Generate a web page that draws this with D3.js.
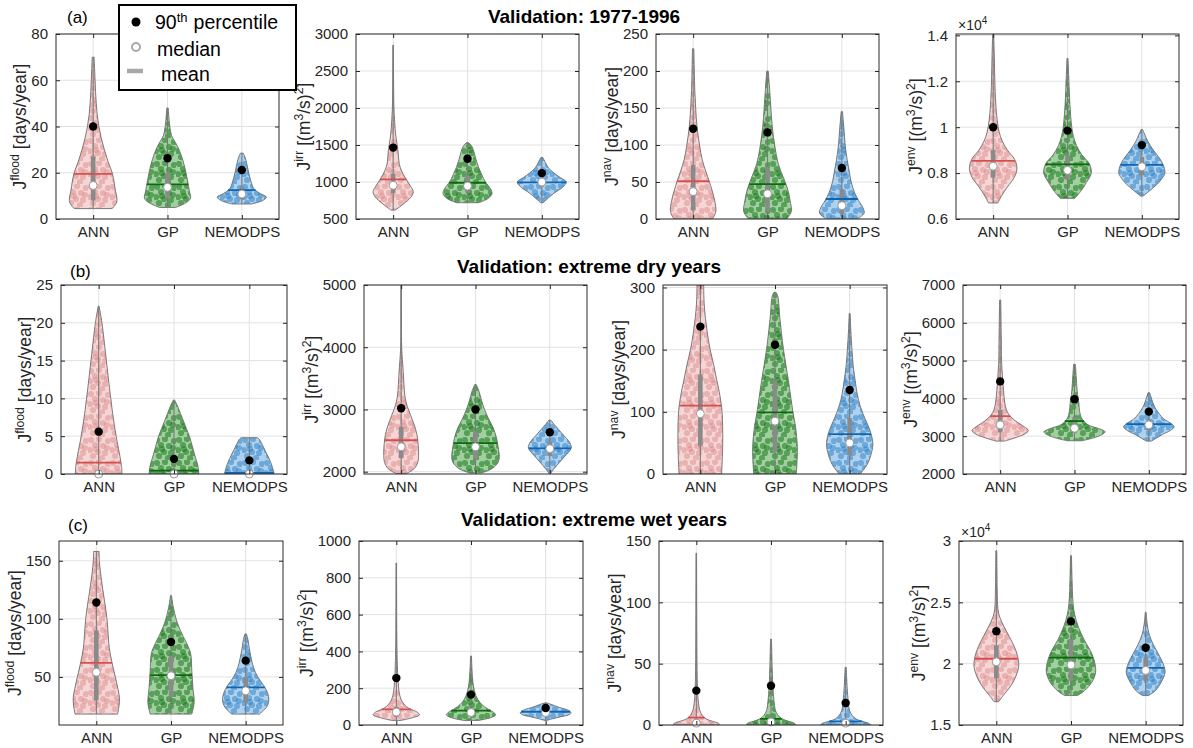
<!DOCTYPE html>
<html lang="en">
<head>
<meta charset="utf-8">
<title>Validation violins</title>
<script src="https://cdn.jsdelivr.net/npm/d3@7"></script>
<style>
  body { margin: 0; background: #fff; }
  text { font-family: "Liberation Sans", Arial, sans-serif; }
</style>
</head>
<body>
<svg id="fig" width="1193" height="748"></svg>
<script>
// ---- data ----
const models = ["ANN", "GP", "NEMODPS"];
const rowTitles = ["Validation: 1977-1996", "Validation: extreme dry years", "Validation: extreme wet years"];
const rowTags = ["(a)", "(b)", "(c)"];
const metrics = ["flood", "irr", "nav", "env"];
const metricUnits = ["days", "flow", "days", "flow"];

// y limits and ticks, per row, per metric
const yDom_a = [[0, 80], [500, 3000], [0, 250], [0.6, 1.406]];
const yDom_b = [[0, 25], [1963, 5000], [0, 304], [2000, 7000]];
const yDom_c = [[8.6, 167], [0, 1000], [0, 150], [1.5, 3]];
const yTicks_a = [[0, 20, 40, 60, 80], [500, 1000, 1500, 2000, 2500, 3000], [0, 50, 100, 150, 200, 250], [0.6, 0.8, 1, 1.2, 1.4]];
const yTicks_b = [[0, 5, 10, 15, 20, 25], [2000, 3000, 4000, 5000], [0, 100, 200, 300], [2000, 3000, 4000, 5000, 6000, 7000]];
const yTicks_c = [[50, 100, 150], [0, 200, 400, 600, 800, 1000], [0, 50, 100, 150], [1.5, 2, 2.5, 3]];
const sciExp = [[0, 0, 0, 4], [0, 0, 0, 0], [0, 0, 0, 4]];

// violin density profiles: [value, relative half width]
const prof_a = [
  [ [[4.5,0.8],[7,0.98],[9,1],[12,0.94],[16,0.88],[20,0.8],[25,0.62],[30,0.47],[35,0.34],[40,0.24],[45,0.17],[50,0.13],[55,0.1],[60,0.08],[65,0.06],[70,0.04]],
    [[5,0.35],[7,0.8],[9,1],[12,0.95],[16,0.88],[20,0.8],[25,0.68],[30,0.5],[33,0.35],[36,0.18],[40,0.1],[44,0.06],[48,0.03]],
    [[6.5,0.4],[8,0.85],[9.5,1],[11,0.75],[13,0.5],[16,0.38],[20,0.28],[24,0.2],[27,0.12],[28.5,0.05]] ],
  [ [[620,0.1],[700,0.5],[800,0.9],[870,1],[950,0.85],[1050,0.62],[1150,0.42],[1250,0.3],[1400,0.25],[1500,0.2],[1650,0.12],[1800,0.08],[2000,0.04],[2400,0.02],[2850,0.01]],
    [[720,0.45],[780,0.85],[850,1],[950,0.85],[1000,0.73],[1100,0.58],[1200,0.45],[1300,0.35],[1400,0.27],[1480,0.18],[1530,0.05]],
    [[720,0.05],[780,0.25],[850,0.5],[930,0.85],[1000,1],[1060,0.75],[1120,0.5],[1200,0.25],[1260,0.15],[1330,0.04]] ],
  [ [[0,0.85],[10,1],[25,0.95],[40,0.82],[50,0.72],[65,0.55],[80,0.4],[100,0.28],[125,0.17],[150,0.11],[175,0.07],[200,0.05],[230,0.03]],
    [[0,0.8],[10,1],[25,0.95],[40,0.85],[55,0.68],[75,0.45],[100,0.3],[125,0.2],[150,0.14],[175,0.09],[200,0.03]],
    [[0,0.7],[8,1],[15,0.95],[25,0.75],[35,0.58],[50,0.42],[65,0.33],[80,0.24],[100,0.15],[120,0.1],[145,0.03]] ],
  [ [[0.67,0.2],[0.7,0.35],[0.74,0.6],[0.78,0.88],[0.82,1],[0.86,0.9],[0.9,0.6],[0.94,0.38],[0.98,0.25],[1.03,0.17],[1.1,0.11],[1.2,0.07],[1.3,0.05],[1.41,0.02]],
    [[0.69,0.3],[0.72,0.55],[0.76,0.8],[0.8,1],[0.84,0.92],[0.88,0.6],[0.92,0.38],[0.96,0.25],[1.0,0.18],[1.1,0.1],[1.2,0.06],[1.3,0.02]],
    [[0.7,0.05],[0.72,0.3],[0.75,0.65],[0.78,0.9],[0.8,1],[0.83,0.95],[0.86,0.8],[0.9,0.5],[0.94,0.25],[0.97,0.12],[0.99,0.03]] ]
];
const prof_b = [
  [ [[0,1],[1,0.98],[2,0.93],[5,0.75],[8,0.6],[10,0.52],[12,0.44],[15,0.33],[18,0.22],[20,0.14],[22.2,0.02]],
    [[0,1],[1,0.97],[2,0.88],[3.5,0.75],[5,0.62],[6,0.5],[7,0.38],[8,0.26],[9,0.14],[9.8,0.02]],
    [[0,1],[1,0.92],[2,0.8],[3,0.65],[4,0.5],[4.6,0.4],[4.8,0.33]] ],
  [ [[1970,0.3],[2050,0.75],[2150,0.95],[2300,1],[2450,0.97],[2600,0.9],[2750,0.75],[2900,0.55],[3050,0.35],[3200,0.22],[3400,0.16],[3600,0.12],[3800,0.07],[4000,0.03],[4500,0.015],[5000,0.01]],
    [[1980,0.25],[2050,0.7],[2150,0.95],[2250,1],[2400,0.95],[2550,0.88],[2700,0.75],[2850,0.55],[3000,0.38],[3150,0.25],[3300,0.14],[3400,0.03]],
    [[1970,0.03],[2050,0.2],[2150,0.45],[2250,0.7],[2350,0.95],[2400,1],[2480,0.9],[2580,0.65],[2680,0.4],[2760,0.2],[2830,0.04]] ],
  [ [[0,0.95],[50,1],[100,0.97],[125,0.88],[150,0.74],[175,0.6],[200,0.44],[225,0.32],[250,0.23],[275,0.17],[300,0.15],[304,0.15]],
    [[0,0.95],[40,1],[75,0.92],[100,0.8],[150,0.6],[200,0.38],[250,0.22],[285,0.13],[292,0.05]],
    [[0,0.45],[15,0.75],[35,0.95],[50,1],[70,0.88],[90,0.65],[110,0.45],[130,0.32],[150,0.24],[175,0.15],[200,0.1],[230,0.05],[258,0.02]] ],
  [ [[2870,0.15],[2950,0.5],[3050,0.85],[3150,1],[3250,0.85],[3400,0.55],[3550,0.33],[3700,0.22],[3900,0.16],[4200,0.12],[4600,0.08],[5000,0.05],[5600,0.04],[6600,0.02]],
    [[2880,0.25],[2950,0.6],[3050,0.92],[3120,1],[3200,0.8],[3300,0.45],[3450,0.25],[3650,0.17],[3900,0.14],[4100,0.1],[4400,0.07],[4900,0.03]],
    [[2870,0.1],[2950,0.3],[3050,0.55],[3150,0.85],[3250,1],[3350,0.85],[3450,0.6],[3600,0.4],[3750,0.25],[3900,0.15],[4050,0.08],[4150,0.03]] ]
];
const prof_c = [
  [ [[18,0.92],[25,0.98],[32,1],[40,0.93],[50,0.82],[62,0.68],[75,0.56],[90,0.5],[100,0.46],[112,0.38],[125,0.28],[140,0.18],[150,0.13],[158,0.12]],
    [[18,0.9],[28,1],[40,0.95],[55,0.9],[70,0.85],[78,0.7],[85,0.52],[92,0.36],[100,0.22],[110,0.1],[120,0.02]],
    [[18,0.6],[24,0.9],[30,1],[36,0.95],[42,0.8],[50,0.52],[58,0.34],[66,0.24],[74,0.16],[82,0.1],[87,0.03]] ],
  [ [[25,0.2],[40,0.7],[55,1],[70,0.9],[90,0.55],[110,0.35],[140,0.2],[180,0.12],[250,0.07],[350,0.04],[500,0.02],[880,0.01]],
    [[25,0.3],[40,0.8],[55,1],[70,0.9],[90,0.65],[110,0.45],[140,0.27],[180,0.15],[230,0.08],[300,0.04],[375,0.02]],
    [[25,0.05],[35,0.3],[45,0.6],[55,0.9],[65,1],[75,0.95],[85,0.8],[95,0.55],[105,0.35],[113,0.2],[120,0.05]] ],
  [ [[0,1],[1.5,0.95],[3,0.7],[5,0.42],[8,0.25],[12,0.15],[20,0.08],[30,0.05],[50,0.03],[80,0.02],[140,0.01]],
    [[0,1],[1.5,0.95],[3,0.72],[5,0.45],[8,0.28],[12,0.18],[20,0.12],[30,0.08],[45,0.05],[70,0.02]],
    [[0,1],[1.5,0.9],[3,0.65],[5,0.4],[8,0.25],[12,0.15],[20,0.1],[30,0.06],[47,0.02]] ],
  [ [[1.69,0.1],[1.75,0.35],[1.82,0.65],[1.9,0.88],[1.98,1],[2.06,0.95],[2.14,0.8],[2.22,0.58],[2.3,0.35],[2.38,0.15],[2.45,0.07],[2.6,0.04],[2.92,0.02]],
    [[1.74,0.25],[1.78,0.55],[1.85,0.85],[1.93,1],[2.02,0.95],[2.1,0.8],[2.2,0.52],[2.3,0.3],[2.4,0.15],[2.5,0.08],[2.7,0.04],[2.88,0.02]],
    [[1.74,0.15],[1.78,0.5],[1.85,0.8],[1.93,1],[2.0,0.9],[2.08,0.65],[2.16,0.38],[2.24,0.18],[2.32,0.08],[2.42,0.02]] ]
];
// max half width of each violin, in category units
const width_a = [[0.32, 0.31, 0.33], [0.27, 0.33, 0.33], [0.305, 0.32, 0.3], [0.32, 0.32, 0.31]];
const width_b = [[0.31, 0.33, 0.33], [0.235, 0.32, 0.29], [0.3, 0.3, 0.31], [0.38, 0.41, 0.34]];
const width_c = [[0.31, 0.31, 0.31], [0.31, 0.33, 0.34], [0.31, 0.33, 0.34], [0.3, 0.33, 0.26]];

// summary statistics [metric][model]
const p90_a = [[40, 26.3, 21.2], [1465, 1315, 1120], [122, 117, 69], [1.0, 0.985, 0.922]];
const med_a = [[14.5, 13.7, 10.8], [955, 945, 1000], [37, 34, 18], [0.83, 0.812, 0.828]];
const mean_a = [[19.5, 15, 12.5], [1035, 990, 995], [51, 47, 27], [0.853, 0.838, 0.836]];
const q1_a = [[8, 9, 8.5], [850, 860, 940], [12, 10, 7], [0.78, 0.77, 0.79]];
const q3_a = [[27, 20, 14], [1110, 1080, 1050], [73, 70, 40], [0.9, 0.88, 0.87]];

const p90_b = [[5.6, 2, 1.8], [3020, 3000, 2635], [237, 208, 135], [4450, 3980, 3650]];
const med_b = [[0, 0, 0], [2400, 2400, 2370], [97, 85, 50], [3300, 3210, 3300]];
const mean_b = [[1.5, 0.45, 0.15], [2505, 2460, 2375], [110, 99, 64], [3530, 3400, 3320]];
const q1_b = [[0, 0, 0], [2220, 2200, 2250], [45, 35, 30], [3100, 3080, 3150]];
const q3_b = [[0.5, 0.3, 0.1], [2720, 2650, 2480], [160, 150, 90], [3700, 3500, 3450]];

const p90_c = [[114, 80, 64], [255, 165, 92], [28, 32, 18], [2.265, 2.345, 2.13]];
const med_c = [[54, 51, 38], [70, 68, 68], [1.5, 2.5, 1.5], [2.015, 1.99, 1.945]];
const mean_c = [[62, 51.5, 41], [85, 78, 72], [6, 5, 3], [2.04, 2.05, 1.965]];
const q1_c = [[30, 33, 28], [45, 45, 55], [0, 0, 0], [1.88, 1.86, 1.86]];
const q3_c = [[90, 68, 50], [100, 90, 80], [5, 5, 3], [2.15, 2.2, 2.05]];

// ---- layout and style ----
const rows = [
  {dom: yDom_a, ticks: yTicks_a, prof: prof_a, wid: width_a, p90: p90_a, med: med_a, mean: mean_a, q1: q1_a, q3: q3_a},
  {dom: yDom_b, ticks: yTicks_b, prof: prof_b, wid: width_b, p90: p90_b, med: med_b, mean: mean_b, q1: q1_b, q3: q3_b},
  {dom: yDom_c, ticks: yTicks_c, prof: prof_c, wid: width_c, p90: p90_c, med: med_c, mean: mean_c, q1: q1_c, q3: q3_c}
];
const rowTop = [34, 285, 541], rowBottom = [219, 474, 725];
const colLeft = [[56, 356, 656, 956], [61, 364, 663, 963], [59, 359, 659, 959]];
const colWidth = [[223, 223, 223, 223], [226, 223, 224, 223], [224, 224, 224, 224]];
const titlePos = [[584, 23], [589, 273], [594, 526]];
const tagPos = [[67, 23], [70, 277], [68, 531]];

const baseFill = ["#f5d6d6", "#a2cea2", "#afd1ed"];
const dotFill = ["#dc8585", "#1a7a1a", "#2a80c8"];
const dotAlpha = [0.45, 0.55, 0.5];
const meanColor = ["#d45050", "#0b6a0b", "#0e66b3"];
const FONT = "Liberation Sans, Arial, sans-serif";

const svg = d3.select("#fig");
const defs = svg.append("defs");

// irregular dot texture standing in for the jittered sample points
const dotSpots = [[3, 3], [11, 2], [7, 8], [15, 9], [2, 13], [10, 15], [17, 16], [5, 19], [14, 21], [20, 4], [19, 11], [8, 12]];
models.forEach((m, i) => {
  const p = defs.append("pattern").attr("id", "dots" + i)
    .attr("patternUnits", "userSpaceOnUse").attr("width", 22).attr("height", 23);
  dotSpots.forEach(d => {
    p.append("circle").attr("cx", d[0]).attr("cy", d[1]).attr("r", 3.1)
      .attr("fill", dotFill[i]).attr("fill-opacity", dotAlpha[i]);
  });
});

function widthAt(prof, v) {
  if (v <= prof[0][0]) return prof[0][1];
  for (let k = 1; k < prof.length; k++) {
    if (v <= prof[k][0]) {
      const t = (v - prof[k - 1][0]) / (prof[k][0] - prof[k - 1][0]);
      return prof[k - 1][1] + t * (prof[k][1] - prof[k - 1][1]);
    }
  }
  return prof[prof.length - 1][1];
}

function addLabel(sel, metric, unit, size) {
  const s = size * 0.7;
  sel.append("tspan").text("J");
  sel.append("tspan").attr("font-size", s).attr("dy", -7).text(metric);
  if (unit === "days") {
    sel.append("tspan").attr("dy", 7).text(" [days/year]");
  } else {
    sel.append("tspan").attr("dy", 7).text(" [(m");
    sel.append("tspan").attr("font-size", s).attr("dy", -7).text("3");
    sel.append("tspan").attr("dy", 7).text("/s)");
    sel.append("tspan").attr("font-size", s).attr("dy", -7).text("2");
    sel.append("tspan").attr("dy", 7).text("]");
  }
}

function panel(r, c) {
  const R = rows[r];
  const L = colLeft[r][c], W = colWidth[r][c], T = rowTop[r], B = rowBottom[r];
  const x = d3.scaleLinear().domain([0.5, 3.5]).range([L, L + W]);
  const y = d3.scaleLinear().domain(R.dom[c]).range([B, T]);
  const g = svg.append("g");
  const clipId = "clip" + r + c;
  defs.append("clipPath").attr("id", clipId).append("rect")
    .attr("x", L).attr("y", T).attr("width", W).attr("height", B - T);

  // grid
  g.append("g").selectAll("line").data(R.ticks[c]).join("line")
    .attr("x1", L).attr("x2", L + W).attr("y1", d => y(d)).attr("y2", d => y(d))
    .attr("stroke", "#e2e2e2").attr("stroke-width", 1);
  g.append("g").selectAll("line").data([1, 2, 3]).join("line")
    .attr("x1", d => x(d)).attr("x2", d => x(d)).attr("y1", T).attr("y2", B)
    .attr("stroke", "#e2e2e2").attr("stroke-width", 1);

  const unitPx = x(1) - x(0);
  models.forEach((m, i) => {
    const prof = R.prof[c][i];
    const maxW = R.wid[c][i] * unitPx;
    const cx = x(i + 1);
    const area = d3.area().curve(d3.curveCatmullRom.alpha(0.5))
      .y(d => y(d[0])).x0(d => cx - d[1] * maxW).x1(d => cx + d[1] * maxW);
    const vg = g.append("g").attr("clip-path", `url(#${clipId})`);
    const dPath = area(prof);
    vg.append("path").attr("d", dPath).attr("fill", baseFill[i]);
    vg.append("path").attr("d", dPath).attr("fill", `url(#dots${i})`);
    vg.append("path").attr("d", dPath).attr("fill", "none")
      .attr("stroke", "#6e6e6e").attr("stroke-width", 0.9);
    // whisker and box
    vg.append("line").attr("x1", cx).attr("x2", cx)
      .attr("y1", y(prof[0][0])).attr("y2", y(prof[prof.length - 1][0]))
      .attr("stroke", "#7a7a7a").attr("stroke-width", 1.1);
    vg.append("rect").attr("x", cx - 2.3).attr("width", 4.6)
      .attr("y", y(R.q3[c][i])).attr("height", Math.max(0, y(R.q1[c][i]) - y(R.q3[c][i])))
      .attr("fill", "#8a8a8a");
    // mean line spans the violin at that level
    const hw = widthAt(prof, R.mean[c][i]) * maxW;
    vg.append("line").attr("x1", cx - hw).attr("x2", cx + hw)
      .attr("y1", y(R.mean[c][i])).attr("y2", y(R.mean[c][i]))
      .attr("stroke", meanColor[i]).attr("stroke-width", 1.8);
    // median and 90th percentile
    g.append("circle").attr("cx", cx).attr("cy", y(R.med[c][i])).attr("r", 4)
      .attr("fill", "#fff").attr("stroke", "#9a9a9a").attr("stroke-width", 1);
    g.append("circle").attr("cx", cx).attr("cy", y(R.p90[c][i])).attr("r", 4.2)
      .attr("fill", "#000");
  });

  // axes
  const axStyle = s => s.attr("font-size", 15).attr("font-family", FONT).attr("color", "#262626")
    .call(a => a.select(".domain").remove());
  const ax = g.append("g").attr("transform", `translate(${L},0)`)
    .call(d3.axisLeft(y).tickValues(R.ticks[c]).tickSizeInner(-4).tickSizeOuter(0)
      .tickPadding(8).tickFormat(d => String(d)))
    .call(axStyle);
  g.append("g").attr("transform", `translate(${L + W},0)`)
    .call(d3.axisRight(y).tickValues(R.ticks[c]).tickSizeInner(-4).tickSizeOuter(0).tickFormat(""))
    .call(axStyle);
  g.append("g").attr("transform", `translate(0,${B})`)
    .call(d3.axisBottom(x).tickValues([1, 2, 3]).tickSizeInner(-4).tickSizeOuter(0)
      .tickPadding(7).tickFormat((d, k) => models[k]))
    .call(axStyle);
  g.append("g").attr("transform", `translate(0,${T})`)
    .call(d3.axisTop(x).tickValues([1, 2, 3]).tickSizeInner(-4).tickSizeOuter(0).tickFormat(""))
    .call(axStyle);
  g.append("rect").attr("x", L).attr("y", T).attr("width", W).attr("height", B - T)
    .attr("fill", "none").attr("stroke", "#2b2b2b").attr("stroke-width", 1);

  // y label, just left of the tick labels
  const bb = ax.node().getBBox();
  const lab = g.append("text")
    .attr("transform", `translate(${L + bb.x - 5},${(T + B) / 2}) rotate(-90)`)
    .attr("text-anchor", "middle").attr("font-size", 17.5).attr("fill", "#262626");
  addLabel(lab, metrics[c], metricUnits[c], 17.5);

  // exponent
  if (sciExp[r][c]) {
    const t = g.append("text").attr("x", L + 2).attr("y", T - 4)
      .attr("font-size", 14).attr("fill", "#262626");
    t.append("tspan").text("\u00d710");
    t.append("tspan").attr("font-size", 10).attr("dy", -6).text(sciExp[r][c]);
  }
}

for (let r = 0; r < 3; r++) {
  for (let c = 0; c < 4; c++) panel(r, c);
  svg.append("text").attr("x", titlePos[r][0]).attr("y", titlePos[r][1])
    .attr("text-anchor", "middle").attr("font-size", 19).attr("font-weight", "bold")
    .attr("fill", "#000").text(rowTitles[r]);
  svg.append("text").attr("x", tagPos[r][0]).attr("y", tagPos[r][1])
    .attr("font-size", 17).attr("fill", "#000").text(rowTags[r]);
}

// legend
const lg = svg.append("g");
lg.append("rect").attr("x", 119).attr("y", 5).attr("width", 177).attr("height", 85)
  .attr("fill", "#fff").attr("stroke", "#000").attr("stroke-width", 2);
lg.append("circle").attr("cx", 136).attr("cy", 22).attr("r", 4.5).attr("fill", "#000");
lg.append("circle").attr("cx", 136).attr("cy", 47).attr("r", 4).attr("fill", "#fff")
  .attr("stroke", "#a8a8a8").attr("stroke-width", 2);
lg.append("line").attr("x1", 127).attr("x2", 143).attr("y1", 71).attr("y2", 71)
  .attr("stroke", "#a8a8a8").attr("stroke-width", 4.5);
const t90 = lg.append("text").attr("x", 155).attr("y", 29).attr("font-size", 19.5).attr("fill", "#000");
t90.append("tspan").text("90");
t90.append("tspan").attr("font-size", 13).attr("dy", -7).text("th");
t90.append("tspan").attr("dy", 7).attr("dx", 6).text("percentile");
lg.append("text").attr("x", 157).attr("y", 56).attr("font-size", 19.5).attr("fill", "#000").text("median");
lg.append("text").attr("x", 161).attr("y", 81).attr("font-size", 19.5).attr("fill", "#000").text("mean");
</script>
</body>
</html>
